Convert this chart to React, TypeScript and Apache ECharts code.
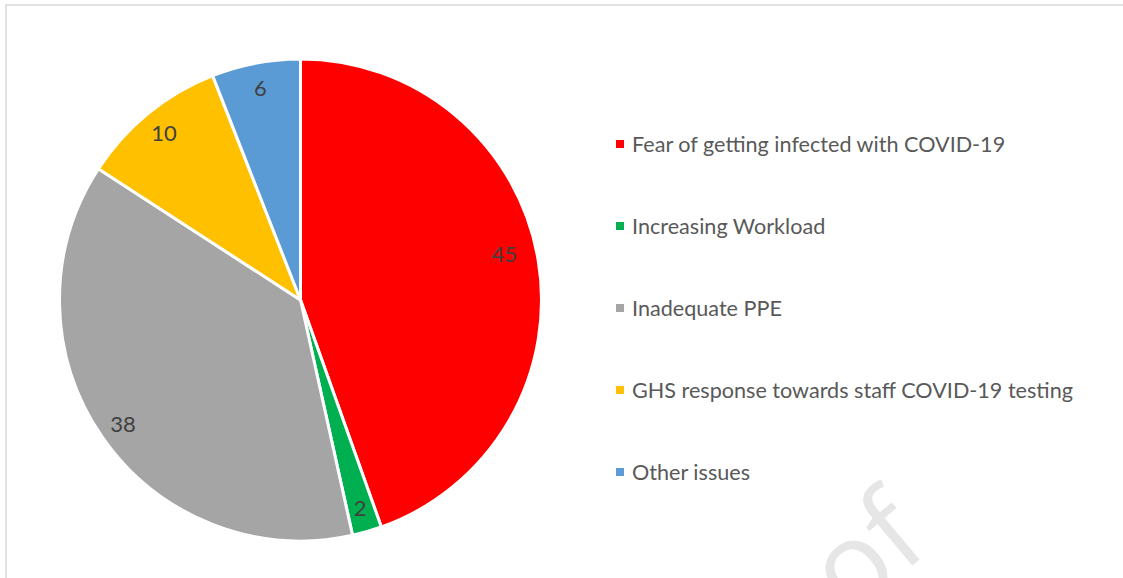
import React, { useEffect, useRef } from "react";
import * as echarts from "echarts";

const categories = [
  "Fear of getting infected with COVID-19",
  "Increasing Workload",
  "Inadequate PPE",
  "GHS response towards staff COVID-19 testing",
  "Other issues",
];
const values = [45, 2, 38, 10, 6];
const colors = ["#FF0000", "#00B050", "#A5A5A5", "#FFC000", "#5B9BD5"];

const FONT = "Lato, 'Open Sans', sans-serif";

export default function App() {
  const ref = useRef<HTMLDivElement>(null);
  useEffect(() => {
    if (!ref.current) return;
    const chart = echarts.init(ref.current, undefined, { renderer: "svg" });
    const data = categories.map((name, i) => ({
      name,
      value: values[i],
      itemStyle: { color: colors[i] },
    }));
    chart.setOption({
      animation: false,
      backgroundColor: "#ffffff",
      graphic: [
        {
          type: "rect",
          shape: { x: 6, y: 5, width: 1300, height: 800 },
          style: { fill: "none", stroke: "#d9d9d9", lineWidth: 1.5 },
          silent: true,
          z: -10,
        },
        {
          type: "text",
          x: 858,
          y: 628,
          rotation: (40 * Math.PI) / 180,
          style: {
            text: "of",
            fontSize: 115,
            fontFamily: "'Open Sans', sans-serif",
            fill: "#e6e6e6",
            textAlign: "left",
            textVerticalAlign: "bottom",
          },
          silent: true,
          z: -5,
        },
      ],
      legend: {
        orient: "vertical",
        left: 611,
        top: 127,
        itemWidth: 8,
        itemHeight: 8,
        itemGap: 58,
        icon: "rect",
        itemStyle: { borderWidth: 0 },
        data: categories,
        textStyle: {
          fontFamily: FONT,
          fontSize: 21.6,
          color: "#595959",
          lineHeight: 24,
          padding: [0, 0, 0, 3],
        },
        selectedMode: false,
      },
      series: [
        {
          type: "pie",
          center: [300.5, 300],
          radius: [0, 241],
          startAngle: 90,
          clockwise: true,
          data,
          label: { show: false },
          labelLine: { show: false },
          itemStyle: { borderColor: "#ffffff", borderWidth: 3 },
          emphasis: { disabled: true },
          silent: true,
        },
        {
          type: "pie",
          center: [300.5, 300],
          radius: [186, 240],
          startAngle: 90,
          clockwise: true,
          data: categories.map((name, i) => ({
            name,
            value: values[i],
            label: i === 0 ? { offset: [-9, -10] } : undefined,
          })),
          itemStyle: { color: "rgba(0,0,0,0)", borderWidth: 0 },
          label: {
            show: true,
            position: "inside",
            formatter: "{c}",
            fontFamily: FONT,
            fontSize: 22,
            color: "#404040",
          },
          labelLine: { show: false },
          emphasis: { disabled: true },
          silent: true,
        },
      ],
    });
    return () => chart.dispose();
  }, []);
  return (
    <div
      ref={ref}
      style={{ position: "absolute", left: 0, top: 0, width: 1123, height: 578 }}
    />
  );
}
